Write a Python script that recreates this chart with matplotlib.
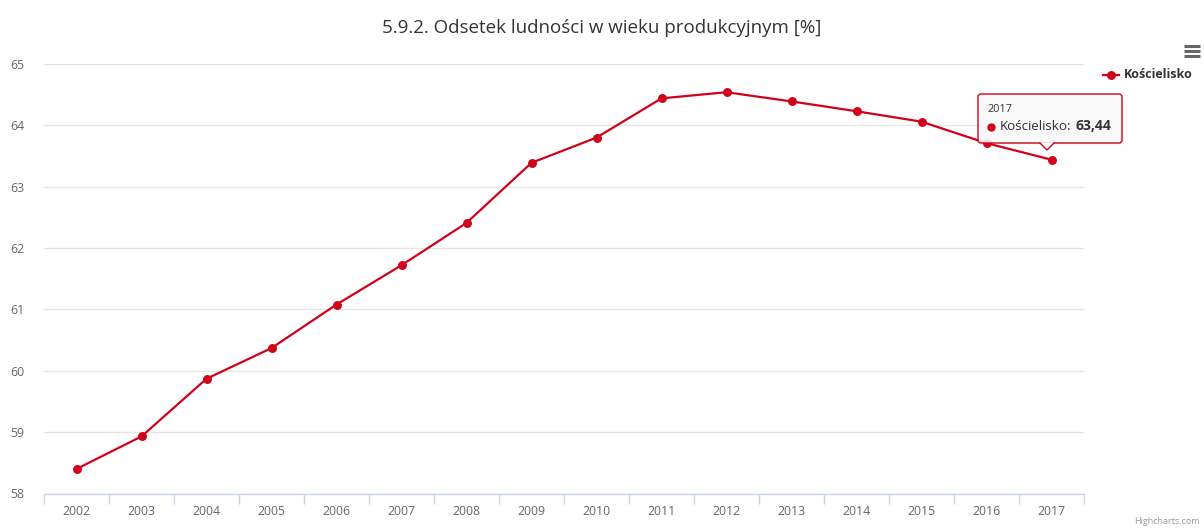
import matplotlib
matplotlib.use("Agg")
import matplotlib.pyplot as plt
from matplotlib.patches import FancyBboxPatch, Polygon
from matplotlib.lines import Line2D

plt.rcParams['font.family'] = ['Open Sans', 'DejaVu Sans']

years = ['2002', '2003', '2004', '2005', '2006', '2007', '2008', '2009',
         '2010', '2011', '2012', '2013', '2014', '2015', '2016', '2017']
values = [58.40, 58.93, 59.87, 60.37, 61.08, 61.72, 62.41, 63.39,
          63.80, 64.44, 64.54, 64.39, 64.23, 64.06, 63.71, 63.44]
y_ticks = [58, 59, 60, 61, 62, 63, 64, 65]
series_name = 'Kościelisko'
title = '5.9.2. Odsetek ludności w wieku produkcyjnym [%]'

W, H = 1204, 528
fig = plt.figure(figsize=(W / 100, H / 100), dpi=100)
ax = fig.add_axes([44 / W, 1 - 493.5 / H, 1040 / W, (493.5 - 64) / H])

red = '#d0021b'
x = list(range(len(years)))
ax.plot(x, values, color=red, lw=1.6, marker='o', ms=5.4, zorder=3,
        solid_capstyle='round')

ax.set_xlim(-0.5, len(years) - 0.5)
ax.set_ylim(58, 65)
ax.set_yticks(y_ticks)
ax.set_yticklabels([str(t) for t in y_ticks])
ax.set_xticks(x)
ax.set_xticklabels(years)
ax.set_xticks([i - 0.5 for i in range(len(years) + 1)], minor=True)

ax.grid(axis='y', color='#e6e6e6', lw=1)
ax.set_axisbelow(True)
for s in ['top', 'right', 'left']:
    ax.spines[s].set_visible(False)
ax.spines['bottom'].set_color('#ccd6eb')
ax.spines['bottom'].set_linewidth(1)

ax.tick_params(axis='y', length=0, pad=14, labelsize=8.8, labelcolor='#666666')
ax.tick_params(axis='x', which='major', length=0, pad=8, labelsize=8.8,
               labelcolor='#666666')
ax.tick_params(axis='x', which='minor', length=7.5, width=1, color='#ccd6eb')

fig.text(0.5, 1 - 28 / H, title, ha='center', va='center', fontsize=13.5,
         color='#333333')

# legend
fig.add_artist(Line2D([1103 / W, 1119 / W], [1 - 75 / H] * 2, color=red, lw=1.6))
fig.add_artist(Line2D([1111 / W], [1 - 75 / H], color=red, marker='o', ms=5.4))
fig.text(1124 / W, 1 - 75 / H, series_name, ha='left', va='center',
         fontsize=9, fontweight='bold', color='#333333')

# menu icon
for yy in [46, 51, 56]:
    fig.add_artist(Line2D([1184 / W, 1200 / W], [1 - yy / H] * 2,
                          color='#666666', lw=2.2, solid_capstyle='butt'))

# tooltip
bx0, by0, bx1, by1 = 978, 94, 1122, 143
shadow = FancyBboxPatch((bx0 + 1.5, H - by1 - 1.5), bx1 - bx0, by1 - by0,
                        boxstyle='round,pad=0,rounding_size=3',
                        transform=None, fc='#000000', alpha=0.07, ec='none')
box = FancyBboxPatch((bx0, H - by1), bx1 - bx0, by1 - by0,
                     boxstyle='round,pad=0,rounding_size=3',
                     transform=None, fc=(0.985, 0.985, 0.985, 0.88), ec=red, lw=1)
fig.patches.extend([shadow, box])
tri = Polygon([[1040, H - by1 + 0.8], [1054, H - by1 + 0.8], [1047, H - 150]],
              closed=True, transform=None, fc=(0.985, 0.985, 0.985), ec='none')
fig.patches.append(tri)
fig.add_artist(Line2D([1040, 1047, 1054], [H - by1, H - 150, H - by1],
                      transform=None, color=red, lw=1))
fig.text(987 / W, 1 - 110 / H, years[-1], ha='left', va='center',
         fontsize=7.8, color='#333333')
fig.add_artist(Line2D([991 / W], [1 - 127 / H], color=red, marker='o', ms=5.0))
t1 = fig.text(1000 / W, 1 - 126 / H, series_name + ':', ha='left', va='center',
              fontsize=9.6, color='#333333')
fig.canvas.draw()
bb = t1.get_window_extent()
fig.text((bb.x1 + 4) / W, 1 - 126 / H, f'{values[-1]:.2f}'.replace('.', ','),
         ha='left', va='center', fontsize=10, fontweight='bold', color='#333333')

fig.text(1200 / W, 1 - 522 / H, 'Highcharts.com', ha='right', va='center',
         fontsize=6.5, color='#999999')

fig.savefig('out.png', dpi=100)
